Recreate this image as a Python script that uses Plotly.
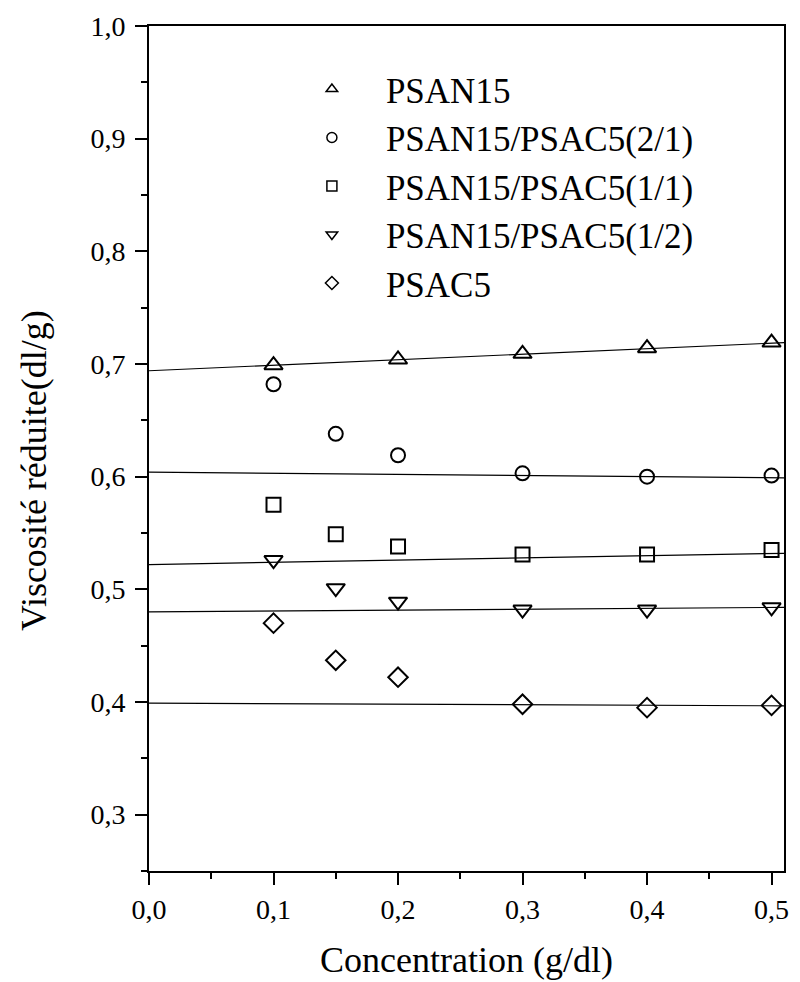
import plotly.graph_objects as go

# ---- data ----
conc = [0.1, 0.15, 0.2, 0.3, 0.4, 0.5]
conc_psan15 = [0.1, 0.2, 0.3, 0.4, 0.5]

psan15 = [0.699, 0.704, 0.709, 0.714, 0.719]
blend_21 = [0.682, 0.638, 0.619, 0.603, 0.600, 0.601]
blend_11 = [0.575, 0.549, 0.538, 0.531, 0.531, 0.535]
blend_12 = [0.526, 0.501, 0.489, 0.482, 0.482, 0.484]
psac5 = [0.470, 0.437, 0.422, 0.398, 0.395, 0.397]

fit_x = [0.0, 0.51]
fit_psan15 = [0.694, 0.719]
fit_21 = [0.604, 0.599]
fit_11 = [0.522, 0.532]
fit_12 = [0.480, 0.484]
fit_psac5 = [0.399, 0.3966]

names = ["PSAN15", "PSAN15/PSAC5(2/1)", "PSAN15/PSAC5(1/1)",
         "PSAN15/PSAC5(1/2)", "PSAC5"]
symbols = ["triangle-up-open", "circle-open", "square-open",
           "triangle-down-open", "diamond-open"]
sizes = [16, 14, 14, 16, 15]

xs = [conc_psan15, conc, conc, conc, conc]
ys = [psan15, blend_21, blend_11, blend_12, psac5]
fits = [fit_psan15, fit_21, fit_11, fit_12, fit_psac5]

FONT = "Liberation Serif, Times New Roman, serif"

fig = go.Figure()

for fy in fits:
    fig.add_trace(go.Scatter(x=fit_x, y=fy, mode="lines",
                             line=dict(color="black", width=1.2),
                             showlegend=False, hoverinfo="skip"))

for x, y, sym, sz in zip(xs, ys, symbols, sizes):
    fig.add_trace(go.Scatter(x=x, y=y, mode="markers", showlegend=False,
                             marker=dict(symbol=sym, size=sz, color="black",
                                         line=dict(color="black", width=2))))

# legend-only entries (smaller symbols, as in the reference legend)
for name, sym in zip(names, symbols):
    fig.add_trace(go.Scatter(x=[None], y=[None], mode="markers", name=name,
                             marker=dict(symbol=sym, size=10, color="black",
                                         line=dict(color="black", width=1.5))))

axis_common = dict(
    showline=True, linecolor="black", linewidth=2, mirror=True,
    ticks="outside", ticklen=12, tickwidth=2, tickcolor="black",
    showgrid=False, zeroline=False,
    tickfont=dict(family=FONT, size=28, color="black"),
    tickformat=".1f",
)

fig.update_xaxes(range=[0, 0.51], tick0=0, dtick=0.1,
                 minor=dict(ticks="outside", ticklen=6, tickwidth=2,
                            tickcolor="black", dtick=0.05, showgrid=False),
                 **axis_common)
fig.update_yaxes(range=[0.25, 1.0],
                 tickvals=[0.3, 0.4, 0.5, 0.6, 0.7, 0.8, 0.9, 1.0],
                 ticklabelstandoff=4,
                 minor=dict(ticks="outside", ticklen=6, tickwidth=2,
                            tickcolor="black", dtick=0.05, showgrid=False),
                 **axis_common)

fig.update_layout(
    width=800, height=982,
    margin=dict(l=149, r=11, t=22, b=111),
    paper_bgcolor="white", plot_bgcolor="white",
    separators=", ",
    font=dict(family=FONT, color="black"),
    showlegend=True,
    legend=dict(x=0.203, y=0.960, xanchor="left", yanchor="top",
                bgcolor="rgba(0,0,0,0)", borderwidth=0,
                font=dict(family=FONT, size=35, color="black"),
                itemwidth=98, tracegroupgap=0),
    annotations=[
        dict(text="Concentration (g/dl)", xref="paper", yref="paper",
             x=0.50, y=-0.1048, xanchor="center", yanchor="middle",
             showarrow=False, font=dict(family=FONT, size=36, color="black")),
        dict(text="Viscosité réduite(dl/g)", xref="paper", yref="paper",
             x=-0.181, y=0.4735, xanchor="center", yanchor="middle",
             textangle=-90, showarrow=False,
             font=dict(family=FONT, size=36, color="black")),
    ],
)

fig.write_html(
    "out.html",
    config={"displayModeBar": False},
    post_script="document.body.style.margin='0';"
                "document.body.style.padding='0';"
                "document.body.style.overflow='hidden';",
)
